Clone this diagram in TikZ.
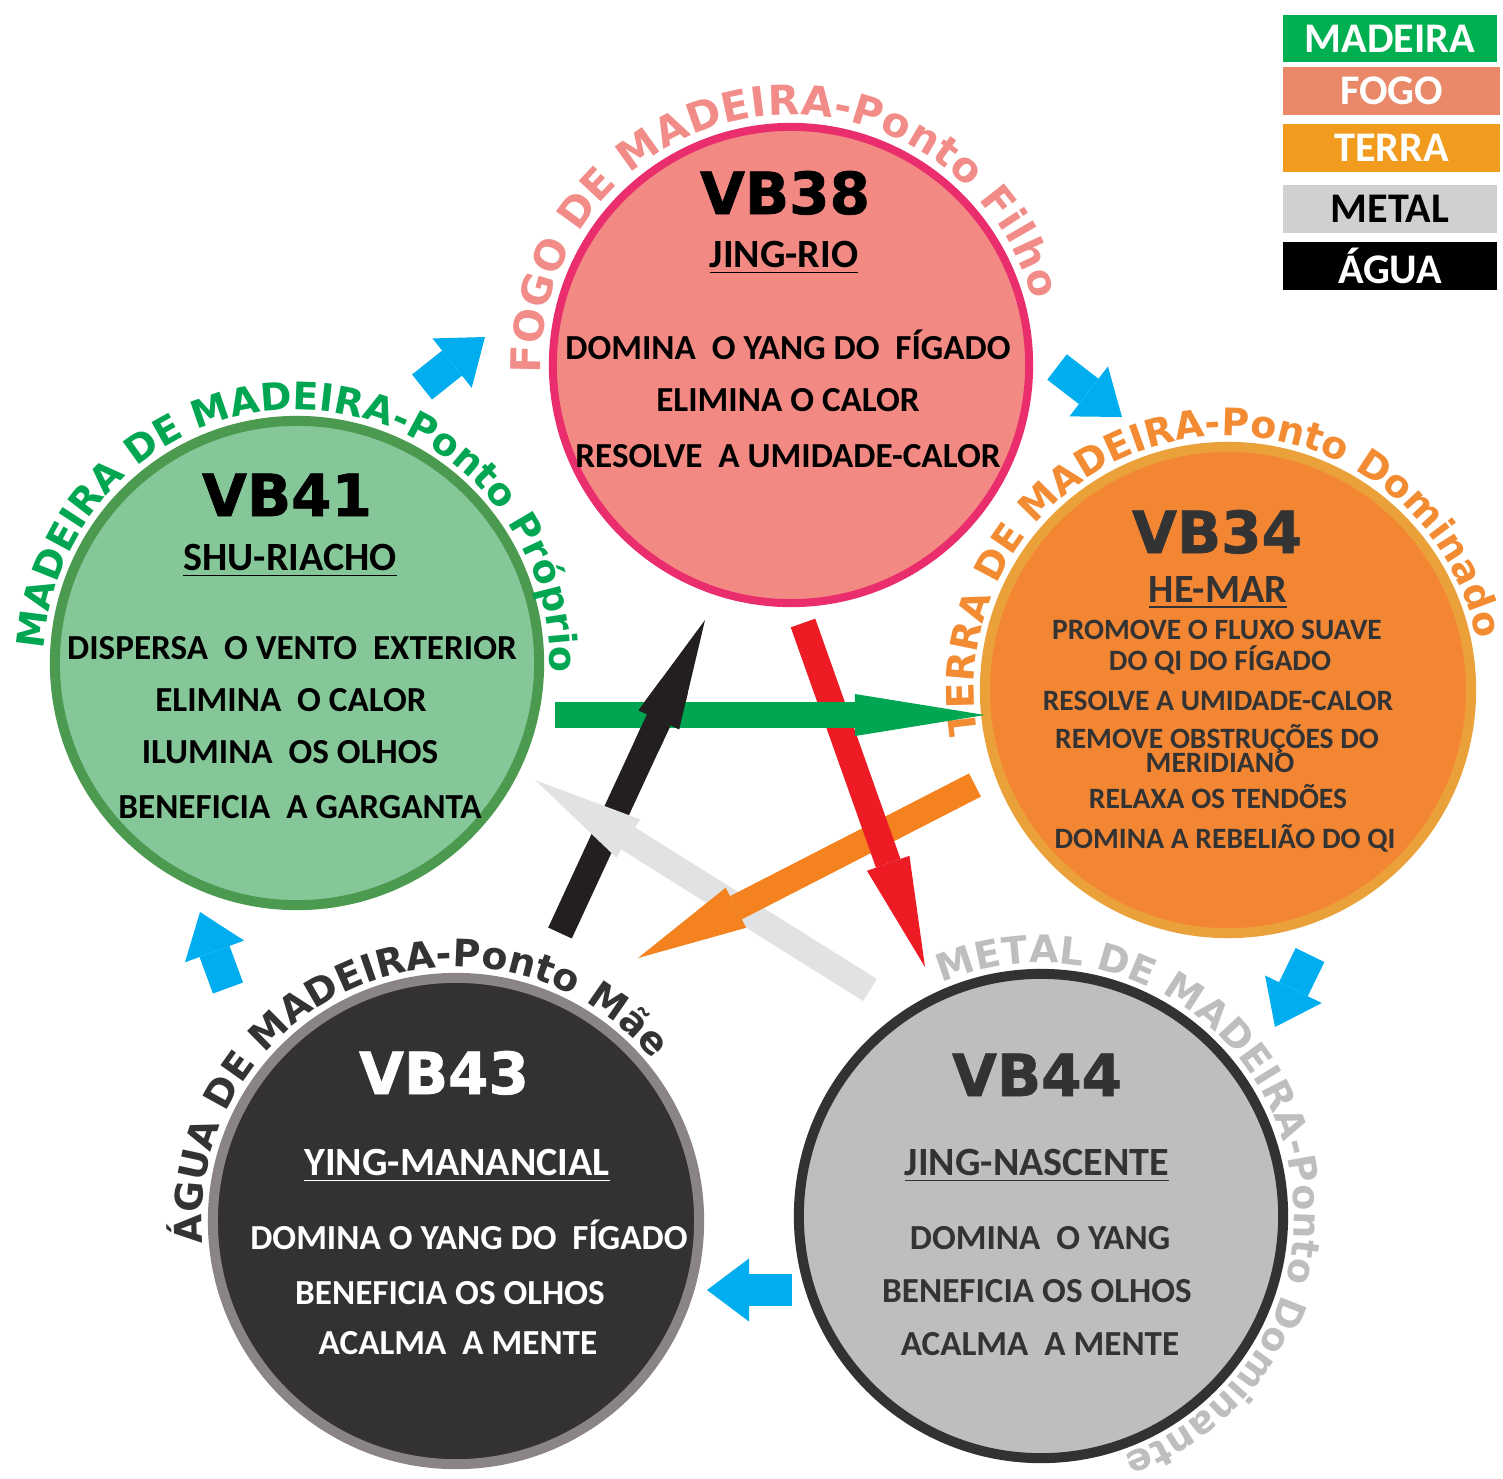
\documentclass[tikz,border=0pt]{standalone}
\usepackage{fontspec}
\setmainfont{Carlito}
\newfontfamily\headfont{DejaVu Sans}[BoldFeatures={FakeBold=1.2}]
\newfontfamily\arcfont{DejaVu Sans}
\usepackage{tikz}
\usetikzlibrary{arrows.meta, decorations.text}
\definecolor{madeira}{HTML}{00B050}
\definecolor{fogo}{HTML}{E9896A}
\definecolor{terra}{HTML}{F19C1F}
\definecolor{metal}{HTML}{D1CFD0}
\definecolor{agua}{HTML}{000000}
\definecolor{woodfill}{HTML}{86C79A}
\definecolor{woodline}{HTML}{4B9A50}
\definecolor{woodtext}{HTML}{00A651}
\definecolor{firefill}{HTML}{F28983}
\definecolor{fireline}{HTML}{EA2E6D}
\definecolor{firetext}{HTML}{F28C88}
\definecolor{earthfill}{HTML}{F38633}
\definecolor{earthline}{HTML}{EBA13A}
\definecolor{earthtext}{HTML}{F38B32}
\definecolor{waterfill}{HTML}{333132}
\definecolor{waterline}{HTML}{8B8487}
\definecolor{watertext}{HTML}{333333}
\definecolor{metalfill}{HTML}{BDBEC0}
\definecolor{metalline}{HTML}{333132}
\definecolor{metaltext}{HTML}{BCBEC0}
\definecolor{inkdark}{HTML}{333333}
\definecolor{cycleblue}{HTML}{00AEEF}
\definecolor{stargreen}{HTML}{00A651}
\definecolor{starblack}{HTML}{231F20}
\definecolor{starred}{HTML}{ED1C24}
\definecolor{starorange}{HTML}{F4821F}
\definecolor{stargray}{HTML}{E1E2E3}
\newcommand{\ringfont}[1]{\arcfont\bfseries\fontsize{#1}{#1}\selectfont}
\tikzset{
  disc/.style      = {circle, inner sep=0pt, line width=0.1cm},
  vbtitle/.style   = {anchor=base, inner sep=0pt, font=\headfont\bfseries\fontsize{16.5}{18}\selectfont},
  vbsub/.style     = {anchor=base, inner sep=0pt, font=\bfseries\fontsize{11.4}{13}\selectfont},
  vbbody/.style    = {anchor=base, inner sep=0pt, font=\bfseries\fontsize{10}{12}\selectfont},
  vbsmall/.style   = {anchor=base, inner sep=0pt, font=\bfseries\fontsize{8.4}{10}\selectfont},
  legendbox/.style = {minimum width=2.14cm, minimum height=0.47cm, inner sep=0pt,
                      font=\bfseries\fontsize{12}{14}\selectfont},
  ringtext/.style  = {decorate, decoration={text along path, text align=fit to path, text={#1}}},
  turnarrow/.style = {-{Triangle[length=0.42cm, width=0.63cm, line width=0pt]}, draw=cycleblue, line width=0.32cm},
  pentarrow/.style = {-{Triangle[length=1.1cm, width=0.45cm, line width=0pt]}, line width=0.26cm},
}
\begin{document}
\begin{tikzpicture}[x=0.01cm, y=0.01cm]
  \useasboundingbox (0,0) rectangle (1503,-1478);

  % the five points
  \node[disc, minimum size=4.76cm, line width=0.08cm, fill=firefill, draw=fireline] (vb38) at (791,-365) {};
  \node[disc, minimum size=4.84cm, fill=woodfill, draw=woodline] (vb41) at (297,-663) {};
  \node[disc, minimum size=4.86cm, fill=earthfill, draw=earthline] (vb34) at (1228,-690) {};
  \node[disc, minimum size=4.86cm, fill=waterfill, draw=waterline] (vb43) at (456,-1221) {};
  \node[disc, minimum size=4.84cm, fill=metalfill, draw=metalline] (vb44) at (1041,-1216) {};

  % names round the discs
  \path[ringtext={|\ringfont{11.7}\color{firetext}|FOGO DE MADEIRA-Ponto Filho}]
    ([shift={(182:250)}]vb38.center) arc[start angle=182, end angle=15, radius=250];
  \path[ringtext={|\ringfont{10.8}\color{woodtext}|MADEIRA DE MADEIRA-Ponto Próprio}]
    ([shift={(177:253)}]vb41.center) arc[start angle=177, end angle=-1, radius=253];
  \path[ringtext={|\ringfont{10.8}\color{earthtext}|TERRA DE MADEIRA-Ponto Dominado}]
    ([shift={(190:254)}]vb34.center) arc[start angle=190, end angle=12, radius=254];
  \path[ringtext={|\ringfont{10.8}\color{watertext}|ÁGUA DE MADEIRA-Ponto Mãe}]
    ([shift={(185:254)}]vb43.center) arc[start angle=185, end angle=40, radius=254];
  \path[ringtext={|\ringfont{10.8}\color{metaltext}|METAL DE MADEIRA-Ponto Dominante}]
    ([shift={(113:253)}]vb44.center) arc[start angle=113, end angle=-71, radius=253];

  % VB38
  \node[vbtitle] (vb38-name) at (785,-214) {VB38};
  \node[vbsub] (vb38-sub) at (784,-267) {\underline{JING-RIO}};
  \node[vbbody] (vb38-l1) at (788,-359) {DOMINA\ \ O YANG DO\ \ FÍGADO};
  \node[vbbody] (vb38-l2) at (788,-411) {ELIMINA O CALOR};
  \node[vbbody] (vb38-l3) at (788,-467) {RESOLVE\ \ A UMIDADE-CALOR};

  % VB41
  \node[vbtitle] (vb41-name) at (287,-516) {VB41};
  \node[vbsub] (vb41-sub) at (290,-570) {\underline{SHU-RIACHO}};
  \node[vbbody] (vb41-l1) at (292,-659) {DISPERSA\ \ O VENTO\ \ EXTERIOR};
  \node[vbbody] (vb41-l2) at (291,-711) {ELIMINA\ \ O CALOR};
  \node[vbbody] (vb41-l3) at (290,-763) {ILUMINA\ \ OS OLHOS};
  \node[vbbody] (vb41-l4) at (300,-818) {BENEFICIA\ \ A GARGANTA};

  % VB34
  \node[vbtitle, text=inkdark] (vb34-name) at (1217,-553) {VB34};
  \node[vbsub, text=inkdark] (vb34-sub) at (1218,-602) {\underline{HE-MAR}};
  \node[vbsmall, text=inkdark] (vb34-l1) at (1217,-639) {PROMOVE O FLUXO SUAVE};
  \node[vbsmall, text=inkdark] (vb34-l2) at (1220,-670) {DO QI DO FÍGADO};
  \node[vbsmall, text=inkdark] (vb34-l3) at (1218,-710) {RESOLVE A UMIDADE-CALOR};
  \node[vbsmall, text=inkdark] (vb34-l4) at (1217,-748) {REMOVE OBSTRUÇÕES DO};
  \node[vbsmall, text=inkdark] (vb34-l5) at (1220,-772) {MERIDIANO};
  \node[vbsmall, text=inkdark] (vb34-l6) at (1218,-808) {RELAXA OS TENDÕES};
  \node[vbsmall, text=inkdark] (vb34-l7) at (1225,-848) {DOMINA A REBELIÃO DO QI};

  % VB43
  \node[vbtitle, text=white] (vb43-name) at (444,-1094) {VB43};
  \node[vbsub, text=white] (vb43-sub) at (457,-1175) {\underline{YING-MANANCIAL}};
  \node[vbbody, text=white] (vb43-l1) at (469,-1249) {DOMINA O YANG DO\ \ FÍGADO};
  \node[vbbody, text=white] (vb43-l2) at (450,-1304) {BENEFICIA OS OLHOS};
  \node[vbbody, text=white] (vb43-l3) at (458,-1354) {ACALMA\ \ A MENTE};

  % VB44
  \node[vbtitle, text=inkdark] (vb44-name) at (1037,-1096) {VB44};
  \node[vbsub, text=inkdark] (vb44-sub) at (1037,-1175) {\underline{JING-NASCENTE}};
  \node[vbbody, text=inkdark] (vb44-l1) at (1040,-1249) {DOMINA\ \ O YANG};
  \node[vbbody, text=inkdark] (vb44-l2) at (1037,-1302) {BENEFICIA OS OLHOS};
  \node[vbbody, text=inkdark] (vb44-l3) at (1040,-1355) {ACALMA\ \ A MENTE};

  % control star
  \coordinate (k-s) at (560,-933);  \coordinate (k-e) at (705,-620);
  \coordinate (s-s) at (870,-990);  \coordinate (s-e) at (535,-780);
  \coordinate (o-s) at (975,-785);  \coordinate (o-e) at (638,-958);
  \coordinate (r-s) at (803,-623);  \coordinate (r-e) at (925,-967);
  \coordinate (g-s) at (555,-715);  \coordinate (g-e) at (985,-715);
  \draw[pentarrow, starblack] (k-s) -- (k-e);
  \draw[pentarrow, stargray] (s-s) -- (s-e);
  \draw[pentarrow, starorange] (o-s) -- (o-e);
  \draw[pentarrow, starred] (r-s) -- (r-e);
  \draw[pentarrow, stargreen, -{Triangle[length=1.3cm, width=0.42cm, line width=0pt]}] (g-s) -- (g-e);
  \begin{scope}
    \clip (661,-715) circle[radius=36];
    \draw[pentarrow, starblack] (k-s) -- (k-e);
  \end{scope}

  % generating cycle
  \coordinate (wf-s) at (422,-387);  \coordinate (wf-e) at (485,-337);
  \coordinate (fe-s) at (1057,-367); \coordinate (fe-e) at (1122,-417);
  \coordinate (em-s) at (1310,-955); \coordinate (em-e) at (1275,-1027);
  \coordinate (mw-s) at (792,-1290); \coordinate (mw-e) at (707,-1290);
  \coordinate (ww-s) at (228,-988);  \coordinate (ww-e) at (200,-912);
  \draw[turnarrow] (wf-s) -- (wf-e);
  \draw[turnarrow] (fe-s) -- (fe-e);
  \draw[turnarrow] (em-s) -- (em-e);
  \draw[turnarrow] (mw-s) -- (mw-e);
  \draw[turnarrow] (ww-s) -- (ww-e);

  % legend
  \node[legendbox, fill=madeira, text=white] (leg-madeira) at (1390,-38.5) {MADEIRA};
  \node[legendbox, fill=fogo, text=white, minimum width=2.17cm] (leg-fogo) at (1391.5,-91) {FOGO};
  \node[legendbox, fill=terra, text=white, minimum width=2.17cm] (leg-terra) at (1391.5,-148) {TERRA};
  \node[legendbox, fill=metal, text=black] (leg-metal) at (1390,-209) {METAL};
  \node[legendbox, fill=agua, text=white] (leg-agua) at (1390,-266) {ÁGUA};
\end{tikzpicture}
\end{document}
